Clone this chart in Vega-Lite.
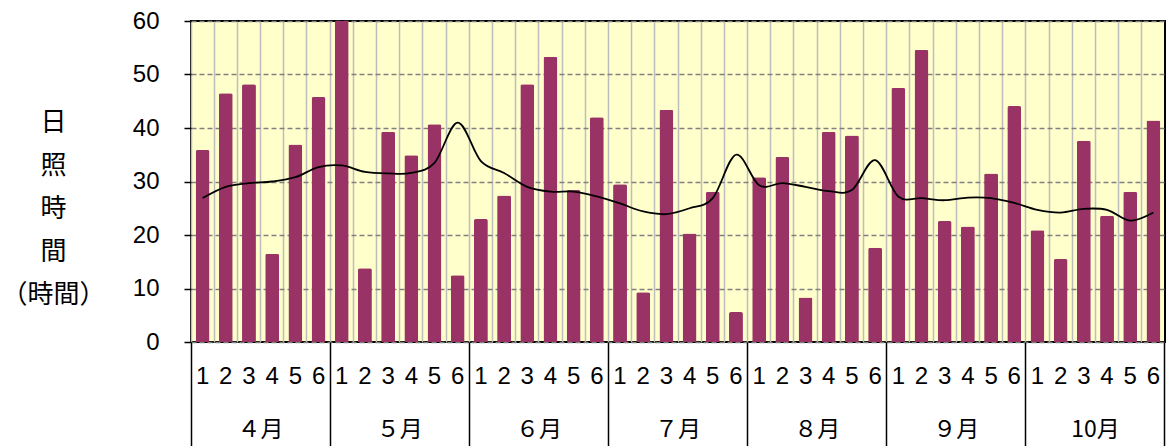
{
  "$schema": "https://vega.github.io/schema/vega-lite/v6.json",
  "autosize": "none",
  "width": 974,
  "height": 321,
  "padding": {"left": 191, "top": 21, "right": 5, "bottom": 104},
  "background": "white",
  "config": {
    "view": {"stroke": "black", "strokeWidth": 2, "fill": "#FFFFCC"},
    "axis": {"labelColor": "black", "titleColor": "black"}
  },
  "data": {
    "values": [
      {"k": "4-1", "v": 35.9, "n": 26.9},
      {"k": "4-2", "v": 46.5, "n": 29.0},
      {"k": "4-3", "v": 48.2, "n": 29.7},
      {"k": "4-4", "v": 16.5, "n": 30.0},
      {"k": "4-5", "v": 36.9, "n": 30.8},
      {"k": "4-6", "v": 45.8, "n": 32.7},
      {"k": "5-1", "v": 60.0, "n": 33.0},
      {"k": "5-2", "v": 13.8, "n": 31.8},
      {"k": "5-3", "v": 39.3, "n": 31.5},
      {"k": "5-4", "v": 34.9, "n": 31.6},
      {"k": "5-5", "v": 40.7, "n": 33.5},
      {"k": "5-6", "v": 12.5, "n": 41.0},
      {"k": "6-1", "v": 23.0, "n": 33.8},
      {"k": "6-2", "v": 27.4, "n": 31.6},
      {"k": "6-3", "v": 48.2, "n": 29.0},
      {"k": "6-4", "v": 53.3, "n": 28.1},
      {"k": "6-5", "v": 28.4, "n": 28.1},
      {"k": "6-6", "v": 42.0, "n": 27.2},
      {"k": "7-1", "v": 29.5, "n": 25.9},
      {"k": "7-2", "v": 9.3, "n": 24.4},
      {"k": "7-3", "v": 43.4, "n": 23.9},
      {"k": "7-4", "v": 20.3, "n": 25.0},
      {"k": "7-5", "v": 28.1, "n": 26.9},
      {"k": "7-6", "v": 5.6, "n": 35.0},
      {"k": "8-1", "v": 30.8, "n": 29.3},
      {"k": "8-2", "v": 34.6, "n": 29.7},
      {"k": "8-3", "v": 8.3, "n": 29.0},
      {"k": "8-4", "v": 39.3, "n": 28.2},
      {"k": "8-5", "v": 38.6, "n": 28.4},
      {"k": "8-6", "v": 17.6, "n": 34.0},
      {"k": "9-1", "v": 47.5, "n": 27.2},
      {"k": "9-2", "v": 54.6, "n": 26.9},
      {"k": "9-3", "v": 22.6, "n": 26.5},
      {"k": "9-4", "v": 21.6, "n": 27.0},
      {"k": "9-5", "v": 31.5, "n": 26.9},
      {"k": "9-6", "v": 44.1, "n": 26.0},
      {"k": "10-1", "v": 20.9, "n": 24.7},
      {"k": "10-2", "v": 15.5, "n": 24.2},
      {"k": "10-3", "v": 37.6, "n": 24.9},
      {"k": "10-4", "v": 23.6, "n": 24.7},
      {"k": "10-5", "v": 28.1, "n": 22.7},
      {"k": "10-6", "v": 41.4, "n": 24.2}
    ]
  },
  "resolve": {"axis": {"x": "independent"}},
  "layer": [
    {
      "mark": {"type": "bar", "color": "#993366", "width": {"band": 0.6}, "cornerRadiusTopLeft": 2, "cornerRadiusTopRight": 2},
      "encoding": {
        "x": {
          "field": "k", "type": "nominal", "sort": null,
          "scale": {"paddingInner": 0, "paddingOuter": 0},
          "axis": {"orient": "bottom", "title": null, "bandPosition": 0, "grid": true, "gridColor": "#BDBDBD", "gridWidth": 1.5, "ticks": false, "labels": false, "domain": false}
        },
        "y": {
          "field": "v", "type": "quantitative",
          "scale": {"domain": [0, 60], "nice": false},
          "axis": {
            "values": [0, 10, 20, 30, 40, 50, 60],
            "grid": true, "gridColor": "#808080", "gridDash": [5, 3], "gridWidth": 1.5,
            "domain": false, "ticks": true, "tickColor": "black", "tickSize": 7, "tickWidth": 1.5,
            "labelFont": "Liberation Sans", "labelFontSize": 24, "labelPadding": 25,
            "title": ["日", "照", "時", "間", "（時間）"],
            "titleAngle": 0, "titleX": -138, "titleY": 101,
            "titleAlign": "center", "titleBaseline": "middle",
            "titleFont": "Noto Sans CJK JP", "titleFontSize": 26, "titleFontWeight": "normal", "titleLineHeight": 43
          }
        }
      }
    },
    {
      "mark": {"type": "line", "color": "black", "strokeWidth": 1.8, "interpolate": "cardinal"},
      "encoding": {
        "x": {
          "field": "k", "type": "nominal", "sort": null,
          "axis": {"orient": "bottom", "title": null, "bandPosition": 0.5, "grid": false, "ticks": false, "domain": false,
                   "labelExpr": "split(datum.value, '-')[1]", "labelAngle": 0, "labelBaseline": "middle", "labelPadding": 34,
                   "labelFont": "Liberation Sans", "labelFontSize": 24, "labelOverlap": false}
        },
        "y": {"field": "n", "type": "quantitative"}
      }
    },
    {
      "mark": {"type": "bar", "opacity": 0},
      "encoding": {
        "x": {
          "field": "k", "type": "nominal", "sort": null,
          "axis": {"orient": "bottom", "title": null, "bandPosition": 0, "grid": false, "domain": false,
                   "values": ["4-1", "5-1", "6-1", "7-1", "8-1", "9-1", "10-1"],
                   "ticks": true, "tickSize": 110, "tickColor": "black", "tickWidth": 1.5,
                   "labelExpr": "['４月','５月','６月','７月','８月','９月','10月'][toNumber(split(datum.value, '-')[0]) - 4]",
                   "labelAngle": 0, "labelAlign": "center", "labelBaseline": "middle", "labelOffset": 58, "labelPadding": -23,
                   "labelFont": "Noto Sans CJK JP", "labelFontSize": 23, "labelOverlap": false, "labelBound": false, "labelFlush": false}
        },
        "y": {"field": "v", "type": "quantitative"}
      }
    },
    {
      "mark": {"type": "bar", "opacity": 0},
      "encoding": {
        "x": {
          "field": "k", "type": "nominal", "sort": null,
          "axis": {"orient": "bottom", "title": null, "bandPosition": 1, "grid": false, "domain": false,
                   "values": ["10-6"], "ticks": true, "tickSize": 110, "tickColor": "black", "tickWidth": 1.5, "labels": false}
        },
        "y": {"field": "v", "type": "quantitative"}
      }
    }
  ]
}
